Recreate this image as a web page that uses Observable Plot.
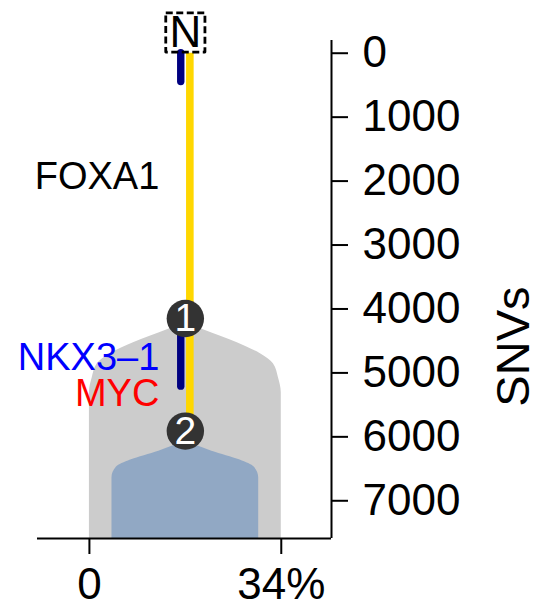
<!DOCTYPE html>
<html>
<head>
<meta charset="utf-8">
<script src="https://cdn.jsdelivr.net/npm/d3@7"></script>
<script src="https://cdn.jsdelivr.net/npm/@observablehq/plot@0.6"></script>
<style>
  html, body { margin: 0; padding: 0; background: #fff; }
  svg { display: block; }
</style>
</head>
<body>
<div id="chart"></div>
<script>
// ---- data ----
const branchX = 17;                       // tree trunk position (x scale, %)
const nodeIds = ["N", "1", "2"];
const nodeSNVs = [0, 4150, 5910];

const yellowFrom = [0];
const yellowTo = [5910];
const navyFrom = [0, 4150];
const navyTo = [450, 5215];

const geneNames = ["FOXA1", "NKX3–1", "MYC"];
const geneSNVs = [1940, 4770, 5320];
const geneColors = ["black", "blue", "red"];

// clone shapes: half-width (in % units) at SNV depth
const clone1SNVs = [4210, 4324, 4527, 4700, 4856, 5075, 5310, 7590];
const clone1Half = [0, 3.2, 9.2, 13.3, 15.6, 16.5, 17, 17];
const clone2SNVs = [6061, 6224, 6363, 6473, 6638, 7590];
const clone2Half = [0, 4.7, 9.7, 12.2, 13, 13];

const xTicks = [0, 34];
const xTickLabels = ["0", "34%"];
const yTicks = [0, 1000, 2000, 3000, 4000, 5000, 6000, 7000];
const xDomain = [-9.2, 42.9];
const yDomain = [-199, 7590];

// ---- tables built from the arrays ----
const nodes = nodeIds.map((id, i) => ({id, snv: nodeSNVs[i]}));
const root = nodes.filter(d => d.id === "N");
const clones = nodes.filter(d => d.id !== "N");
const yellow = yellowFrom.map((f, i) => ({from: f, to: yellowTo[i]}));
const navy = navyFrom.map((f, i) => ({from: f, to: navyTo[i]}));
const genes = geneNames.map((name, i) => ({name, snv: geneSNVs[i], color: geneColors[i]}));
const clone1 = clone1SNVs.map((snv, i) => ({snv, hw: clone1Half[i]}));
const clone2 = clone2SNVs.map((snv, i) => ({snv, hw: clone2Half[i]}));

const font = "'Liberation Sans', Arial, Helvetica, sans-serif";

const chart = Plot.plot({
  width: 553,
  height: 607,
  marginLeft: 37,
  marginRight: 222,
  marginTop: 40,
  marginBottom: 69,
  style: {fontFamily: font, background: "white", color: "black"},
  x: {domain: xDomain},
  y: {domain: yDomain, reverse: true},
  color: {type: "identity"},
  marks: [
    Plot.areaX(clone1, {y: "snv", x1: d => branchX - d.hw, x2: d => branchX + d.hw, fill: "#cccccc", curve: "monotone-y"}),
    Plot.areaX(clone2, {y: "snv", x1: d => branchX - d.hw, x2: d => branchX + d.hw, fill: "#91a8c4", curve: "monotone-y"}),
    Plot.ruleX(yellow, {x: () => branchX, y1: "from", y2: "to", stroke: "#FFD700", strokeWidth: 7.6, dx: 4.5}),
    Plot.ruleX(navy, {x: () => branchX, y1: "from", y2: "to", stroke: "#000080", strokeWidth: 7.4, strokeLinecap: "round", dx: -4.6}),
    Plot.dot(clones, {x: () => branchX, y: "snv", r: 18.7, fill: "#333333"}),
    Plot.text(clones, {x: () => branchX, y: "snv", text: "id", fill: "white", fontSize: 39}),
    Plot.dot(root, {x: () => branchX, y: "snv", symbol: "square", r: 22.1, stroke: "black", strokeWidth: 2.8, strokeDasharray: "7,3.5", strokeLinejoin: "round", fill: "none", dy: -20.7}),
    Plot.text(root, {x: () => branchX, y: "snv", text: "id", fontSize: 44, dy: -20.7}),
    Plot.text(genes, {x: () => branchX, y: "snv", text: "name", fill: "color", textAnchor: "end", dx: -26, fontSize: 38}),
    Plot.axisY({anchor: "right", ticks: yTicks, tickFormat: d => String(d), tickSize: 16, tickPadding: 15, fontSize: 44, label: null, strokeWidth: 2}),
    Plot.axisX({ticks: xTicks, tickFormat: d => xTickLabels[xTicks.indexOf(d)], tickSize: 16, tickPadding: 13, fontSize: 44, label: null, strokeWidth: 2}),
    Plot.ruleX([xDomain[1]], {stroke: "black", strokeWidth: 2}),
    Plot.ruleY([yDomain[1]], {stroke: "black", strokeWidth: 2}),
    Plot.text(["SNVs"], {frameAnchor: "right", rotate: -90, dx: 182, dy: -3, fontSize: 47})
  ]
});
document.getElementById("chart").appendChild(chart);
</script>
</body>
</html>
